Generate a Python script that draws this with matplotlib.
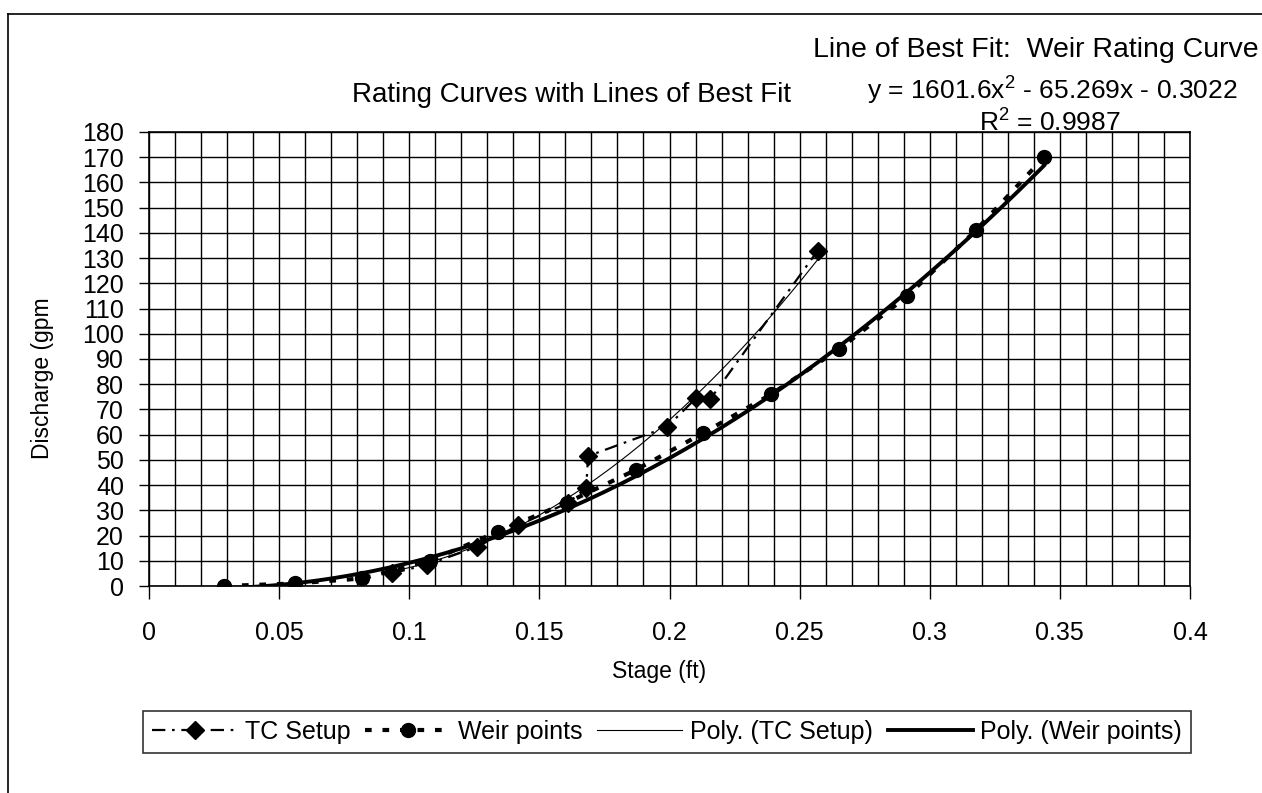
import numpy as np
import matplotlib
matplotlib.use("Agg")
import matplotlib.pyplot as plt
from matplotlib.lines import Line2D

plt.rcParams['font.family'] = ['Liberation Sans', 'DejaVu Sans']

# ---- data ----
tc_x = [0.0933, 0.107, 0.126, 0.1418, 0.161, 0.168, 0.1687, 0.199, 0.2102, 0.2156, 0.257]
tc_y = [5, 8.5, 15.5, 24, 33, 38.8, 51.5, 63, 74.5, 74, 133]

weir_x = [0.029, 0.056, 0.082, 0.108, 0.134, 0.1605, 0.187, 0.2127, 0.239, 0.2653, 0.2914, 0.3177, 0.3439]
weir_y = [0, 1, 3, 10, 21.5, 33, 46, 60.5, 76, 94, 115, 141, 170]

weir_coef = [1601.6, -65.269, -0.3022]   # shown on chart
weir_r2 = 0.9987

x_ticks = [0, 0.05, 0.1, 0.15, 0.2, 0.25, 0.3, 0.35, 0.4]
x_tick_labels = ['0', '0.05', '0.1', '0.15', '0.2', '0.25', '0.3', '0.35', '0.4']
y_ticks = list(range(0, 181, 10))

legend_labels = ['TC Setup', 'Weir points', 'Poly. (TC Setup)', 'Poly. (Weir points)']

W, H = 1262, 793
fig = plt.figure(figsize=(W / 100, H / 100), dpi=100)
ax = fig.add_axes([149 / W, 1 - 586 / H, (1190 - 149) / W, (586 - 132) / H])

# grid
ax.set_xticks(np.arange(0, 0.4001, 0.01), minor=True)
ax.set_xticks(x_ticks)
ax.set_xticklabels(x_tick_labels)
ax.set_yticks(y_ticks)
ax.grid(True, which='both', color='black', linewidth=1.0)
ax.set_axisbelow(True)
ax.tick_params(axis='x', which='minor', length=0)
ax.tick_params(axis='both', which='major', direction='out', width=1,
               labelsize=18, color='black')
ax.tick_params(axis='x', which='major', length=9, pad=16)
ax.tick_params(axis='y', which='major', length=7, pad=11)
ax.set_xlim(0, 0.4)
ax.set_ylim(0, 180)
for s in ax.spines.values():
    s.set_linewidth(1.2)
    s.set_color('black')

# trend lines
tc_coef = np.polyfit(tc_x, tc_y, 2)
xt = np.linspace(min(tc_x), max(tc_x), 200)
xw = np.linspace(min(weir_x), max(weir_x), 200)

l1, = ax.plot(tc_x, tc_y, color='black', linewidth=1.6, dashes=(6, 3, 1.2, 3),
              marker='D', markersize=9, label=legend_labels[0])
l2, = ax.plot(weir_x, weir_y, color='black', linewidth=3.0, dashes=(1.6, 2.6),
              marker='o', markersize=10, label=legend_labels[1])
l3, = ax.plot(xt, np.polyval(tc_coef, xt), color='black', linewidth=0.8,
              label=legend_labels[2])
l4, = ax.plot(xw, np.polyval(weir_coef, xw), color='black', linewidth=2.8,
              label=legend_labels[3])

ax.set_xlabel('Stage (ft)', fontsize=16.5)
ax.xaxis.set_label_coords(0.49, (586 - 660) / 454)
ax.set_ylabel('Discharge (gpm', fontsize=16.5)
ax.yaxis.set_label_coords((54 - 149) / 1041, (586 - 378) / 454)

# titles / annotations
fig.text(572 / W, 1 - 95 / H, 'Rating Curves with Lines of Best Fit',
         fontsize=20, ha='center', va='center')
fig.text(1259 / W, 1 - 50 / H, 'Line of Best Fit:  Weir Rating Curve',
         fontsize=20.5, ha='right', va='center')
fig.text(1052 / W, 1 - 91 / H,
         'y = %.1f$\\mathregular{x^2}$ - %.3fx - %.4f' % (weir_coef[0], -weir_coef[1], -weir_coef[2]),
         fontsize=19, ha='center', va='center')
fig.text(1050 / W, 1 - 123 / H, '$\\mathregular{R^2}$ = %.4f' % weir_r2,
         fontsize=19, ha='center', va='center')

leg = fig.legend(handles=[l1, l2, l3, l4], loc='center', ncol=4,
                 bbox_to_anchor=(667 / W, 1 - 732 / H), fontsize=18,
                 frameon=True, fancybox=False, edgecolor='black',
                 handlelength=3.4, handletextpad=0.3, columnspacing=0.6,
                 borderpad=0.35)
leg.get_frame().set_linewidth(1.2)

# surrounding frame fragments of the scanned page
fig.add_artist(Line2D([8 / W, 1.0], [1 - 14 / H, 1 - 14 / H], color='black', linewidth=1.2))
fig.add_artist(Line2D([8 / W, 8 / W], [1 - 14 / H, 0], color='black', linewidth=1.2))

fig.savefig('out.png', dpi=100)
